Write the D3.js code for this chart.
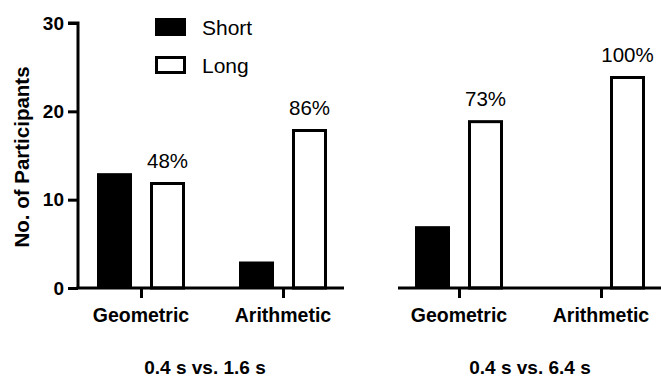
<!DOCTYPE html>
<html>
<head>
<meta charset="utf-8">
<script src="https://cdn.jsdelivr.net/npm/d3@7"></script>
<style>
html,body{margin:0;padding:0;background:#fff;}
svg{display:block;}
text{font-family:"Liberation Sans",Arial,Helvetica,sans-serif;fill:#000;}
</style>
</head>
<body>
<svg id="chart" width="661" height="377"></svg>
<script>
// ---- data ----
const categories = ["Geometric", "Arithmetic"];
const series = ["Short", "Long"];
const panelTitles = ["0.4 s vs. 1.6 s", "0.4 s vs. 6.4 s"];
const shortValues = [[13, 3], [7, 0]];
const longValues = [[12, 18], [19, 24]];
const percentLabels = [["48%", "86%"], ["73%", "100%"]];
const yTicks = [0, 10, 20, 30];
const yLabel = "No. of Participants";

// ---- layout ----
const svg = d3.select("#chart");
const W = 661, H = 377;
const y = d3.scaleLinear().domain([0, 30]).range([288, 23]);
const panels = [
  {axisX0: 78, axisX1: 344, tick0: 141, tick1: 283, titleX: 205},
  {axisX0: 398, axisX1: 662, tick0: 459, tick1: 601, titleX: 530}
];
const sw = 3;
const x1 = d3.scaleBand().domain(series).range([-44, 44]).paddingInner(18/53).paddingOuter(0);

// y axis
const yAxisG = svg.append("g").attr("transform", `translate(${panels[0].axisX0},0)`)
  .call(d3.axisLeft(y).tickValues(yTicks).tickSize(10).tickPadding(4).tickFormat(d3.format("d")));
yAxisG.select(".domain").attr("d", `M-10,${y(30)}H0V${y(0)}`).attr("stroke", "#000").attr("stroke-width", sw).attr("fill", "none");
yAxisG.selectAll(".tick line").attr("stroke", "#000").attr("stroke-width", sw);
yAxisG.selectAll(".tick text").attr("font-size", 19).attr("font-weight", "bold").attr("fill", "#000")
  .attr("font-family", '"Liberation Sans",Arial,sans-serif');

svg.append("text")
  .attr("transform", `translate(29,157) rotate(-90)`)
  .attr("text-anchor", "middle")
  .attr("font-size", 20.5).attr("font-weight", "bold")
  .text(yLabel);

panels.forEach((p, pi) => {
  const x0 = d3.scalePoint().domain(categories).range([p.tick0, p.tick1]);
  const g = svg.append("g");
  // bars
  categories.forEach((c, ci) => {
    const cx = x0(c);
    const vs = shortValues[pi][ci];
    const vl = longValues[pi][ci];
    if (vs > 0) {
      g.append("rect")
        .attr("x", cx + x1("Short"))
        .attr("y", y(vs))
        .attr("width", x1.bandwidth())
        .attr("height", y(0) - y(vs))
        .attr("fill", "#000");
    }
    if (vl > 0) {
      g.append("rect")
        .attr("x", cx + x1("Long") + sw/2)
        .attr("y", y(vl) + sw/2)
        .attr("width", x1.bandwidth() - sw)
        .attr("height", y(0) - y(vl) - sw/2)
        .attr("fill", "#fff")
        .attr("stroke", "#000")
        .attr("stroke-width", sw);
    }
    g.append("text")
      .attr("x", cx + x1("Long") + x1.bandwidth()/2)
      .attr("y", y(vl) - 14)
      .attr("text-anchor", "middle")
      .attr("font-size", 20.5)
      .text(percentLabels[pi][ci]);
  });
  // x axis
  const xa = svg.append("g").attr("transform", `translate(0,${y(0)})`)
    .call(d3.axisBottom(x0).tickSize(10).tickPadding(0).tickFormat(""));
  xa.select(".domain").attr("d", `M${p.axisX0 - (pi === 0 ? 1.5 : 0)},0H${p.axisX1}`).attr("stroke", "#000").attr("stroke-width", sw);
  xa.selectAll(".tick line").attr("stroke", "#000").attr("stroke-width", sw);
  xa.selectAll(".tick text").remove();
  categories.forEach(c => {
    svg.append("text")
      .attr("x", x0(c)).attr("y", 322)
      .attr("text-anchor", "middle")
      .attr("font-size", 19.5).attr("font-weight", "bold")
      .text(c);
  });
  svg.append("text")
    .attr("x", p.titleX).attr("y", 374)
    .attr("text-anchor", "middle")
    .attr("font-size", 19).attr("font-weight", "bold")
    .text(panelTitles[pi]);
});

// legend
const legend = svg.append("g");
series.forEach((s, i) => {
  const ly = i === 0 ? 18 : 56;
  if (i === 0) {
    legend.append("rect").attr("x", 155).attr("y", ly).attr("width", 31).attr("height", 18).attr("fill", "#000");
  } else {
    legend.append("rect").attr("x", 156.5).attr("y", ly + 1.5).attr("width", 28).attr("height", 15)
      .attr("fill", "#fff").attr("stroke", "#000").attr("stroke-width", sw);
  }
  legend.append("text").attr("x", 202).attr("y", i === 0 ? 35 : 72.5)
    .attr("font-size", 21).text(s);
});
</script>
</body>
</html>
